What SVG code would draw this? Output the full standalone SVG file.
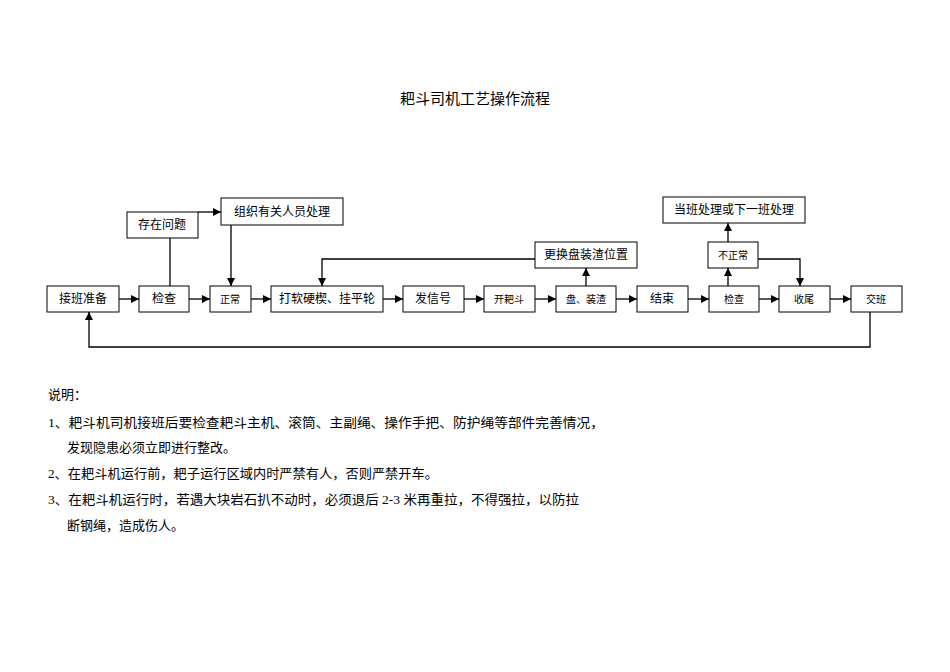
<svg xmlns="http://www.w3.org/2000/svg" width="950" height="672" viewBox="0 0 950 672">
<style>
.b{fill:#fff;stroke:#000;stroke-width:1}
.t{font-family:"Liberation Serif","Noto Sans CJK SC",serif;font-size:12px;text-anchor:middle;fill:#000}
.s{font-size:10px}
.n{font-family:"Liberation Serif","Noto Sans CJK SC",serif;font-size:13px;fill:#000}
.c{fill:none;stroke:#000;stroke-width:1.3}
</style>
<defs><marker id="a" viewBox="0 0 10 10" refX="10" refY="5" markerWidth="8" markerHeight="8" markerUnits="userSpaceOnUse" orient="auto"><path d="M0,0L10,5L0,10z"/></marker></defs>
<rect width="950" height="672" fill="#fff"/>
<text class="t" x="475" y="104" style="font-size:15px">耙斗司机工艺操作流程</text>
<g id="connectors">
<path class="c" marker-end="url(#a)" d="M119,299H139"/>
<path class="c" marker-end="url(#a)" d="M189,299H210"/>
<path class="c" marker-end="url(#a)" d="M251,299H271"/>
<path class="c" marker-end="url(#a)" d="M383,299H403"/>
<path class="c" marker-end="url(#a)" d="M464,299H484"/>
<path class="c" marker-end="url(#a)" d="M535,299H556"/>
<path class="c" marker-end="url(#a)" d="M616,299H637"/>
<path class="c" marker-end="url(#a)" d="M688,299H709"/>
<path class="c" marker-end="url(#a)" d="M759,299H779"/>
<path class="c" marker-end="url(#a)" d="M830,299H851"/>
<path class="c" d="M170,286V238"/>
<path class="c" marker-end="url(#a)" d="M198,212H221"/>
<path class="c" marker-end="url(#a)" d="M231,225V286"/>
<path class="c" marker-end="url(#a)" d="M535,259H322V286"/>
<path class="c" marker-end="url(#a)" d="M586,286V268"/>
<path class="c" marker-end="url(#a)" d="M728,286V268"/>
<path class="c" marker-end="url(#a)" d="M728,242V223"/>
<path class="c" marker-end="url(#a)" d="M758,259H800V286"/>
<path class="c" marker-end="url(#a)" d="M870,312V347H89V312"/>
</g>
<g id="n1"><rect class="b" x="47" y="286" width="72" height="26"/><text class="t" x="83" y="303">接班准备</text></g>
<g id="n2"><rect class="b" x="139" y="286" width="50" height="26"/><text class="t" x="164" y="303">检查</text></g>
<g id="n3"><rect class="b" x="210" y="286" width="41" height="26"/><text class="t s" x="230" y="303">正常</text></g>
<g id="n4"><rect class="b" x="271" y="286" width="112" height="26"/><text class="t" x="327" y="303">打软硬楔、挂平轮</text></g>
<g id="n5"><rect class="b" x="403" y="286" width="61" height="26"/><text class="t" x="433" y="303">发信号</text></g>
<g id="n6"><rect class="b" x="484" y="286" width="51" height="26"/><text class="t s" x="509" y="303">开耙斗</text></g>
<g id="n7"><rect class="b" x="556" y="286" width="60" height="26"/><text class="t s" x="586" y="303">盘、装渣</text></g>
<g id="n8"><rect class="b" x="637" y="286" width="51" height="26"/><text class="t" x="662" y="303">结束</text></g>
<g id="n9"><rect class="b" x="709" y="286" width="50" height="26"/><text class="t s" x="734" y="303">检查</text></g>
<g id="n10"><rect class="b" x="779" y="286" width="51" height="26"/><text class="t s" x="804" y="303">收尾</text></g>
<g id="n11"><rect class="b" x="851" y="286" width="51" height="26"/><text class="t s" x="876" y="303">交班</text></g>
<g id="n12"><rect class="b" x="127" y="212" width="71" height="26"/><text class="t" x="162" y="229">存在问题</text></g>
<g id="n13"><rect class="b" x="221" y="198" width="122" height="27"/><text class="t" x="282" y="216">组织有关人员处理</text></g>
<g id="n14"><rect class="b" x="535" y="242" width="102" height="26"/><text class="t" x="586" y="259">更换盘装渣位置</text></g>
<g id="n15"><rect class="b" x="708" y="242" width="50" height="26"/><text class="t s" x="733" y="259">不正常</text></g>
<g id="n16"><rect class="b" x="663" y="197" width="142" height="26"/><text class="t" x="734" y="214">当班处理或下一班处理</text></g>
<g id="notes">
<text class="n" x="48" y="399">说明：</text>
<text class="n" x="48" y="427" textLength="556" lengthAdjust="spacingAndGlyphs">1、耙斗机司机接班后要检查耙斗主机、滚筒、主副绳、操作手把、防护绳等部件完善情况，</text>
<text class="n" x="67" y="452">发现隐患必须立即进行整改。</text>
<text class="n" x="48" y="478" textLength="390" lengthAdjust="spacingAndGlyphs">2、在耙斗机运行前，耙子运行区域内时严禁有人，否则严禁开车。</text>
<text class="n" x="48" y="504" textLength="531" lengthAdjust="spacingAndGlyphs">3、在耙斗机运行时，若遇大块岩石扒不动时，必须退后 2-3 米再重拉，不得强拉，以防拉</text>
<text class="n" x="67" y="530">断钢绳，造成伤人。</text>
</g>
</svg>
